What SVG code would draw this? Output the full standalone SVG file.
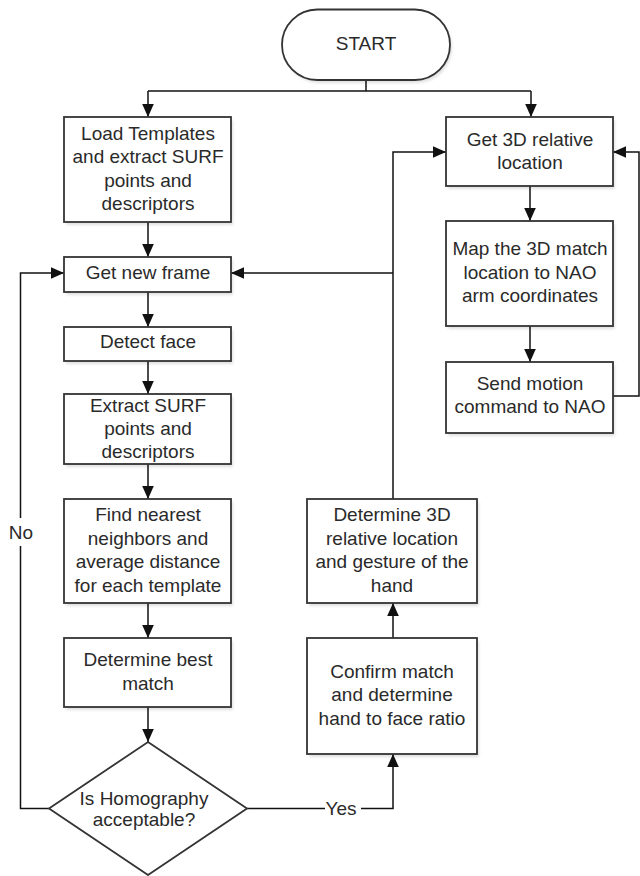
<svg xmlns="http://www.w3.org/2000/svg" width="640" height="876" viewBox="0 0 640 876">
<style>
.b{fill:#fff;stroke:#333;stroke-width:1.8}
.s{fill:#000;opacity:0.12}
.t{font-family:"Liberation Sans",Arial,sans-serif;font-size:19px;fill:#2a2a2a;text-anchor:middle}
.c{fill:none;stroke:#111;stroke-width:1.5}
</style>
<defs>
<marker id="ah" markerUnits="userSpaceOnUse" markerWidth="14" markerHeight="14" viewBox="0 0 14 14" refX="13" refY="7" orient="auto">
<path d="M0,1.2 L13,7 L0,12.8 Z" fill="#111"/>
</marker>
<filter id="sh" x="-10%" y="-10%" width="130%" height="130%"><feGaussianBlur stdDeviation="1.5"/></filter>
</defs>
<rect width="640" height="876" fill="#fff"/>
<g id="connectors">
<path class="c" d="M366,80 V91"/>
<path class="c" d="M148,91 H531"/>
<path class="c" d="M148,91 V117" marker-end="url(#ah)"/>
<path class="c" d="M531,91 V117" marker-end="url(#ah)"/>
<path class="c" d="M148,222 V257" marker-end="url(#ah)"/>
<path class="c" d="M148,292 V327" marker-end="url(#ah)"/>
<path class="c" d="M148,361 V394" marker-end="url(#ah)"/>
<path class="c" d="M148,464 V499" marker-end="url(#ah)"/>
<path class="c" d="M148,603 V638" marker-end="url(#ah)"/>
<path class="c" d="M148,707 V742" marker-end="url(#ah)"/>
<path class="c" d="M49,808.5 H20.5 V273 H64" marker-end="url(#ah)"/>
<path class="c" d="M247,808.5 H393 V754" marker-end="url(#ah)"/>
<path class="c" d="M393,638 V603" marker-end="url(#ah)"/>
<path class="c" d="M393,499 V152 H446" marker-end="url(#ah)"/>
<path class="c" d="M393,273 H231" marker-end="url(#ah)"/>
<path class="c" d="M530,186 V221" marker-end="url(#ah)"/>
<path class="c" d="M530,326 V362" marker-end="url(#ah)"/>
<path class="c" d="M613,396 H639 V152 H613" marker-end="url(#ah)"/>
<rect x="8" y="518" width="26" height="28" fill="#fff"/>
<text class="t" x="21" y="538.5">No</text>
<rect x="325" y="798" width="36" height="20" fill="#fff"/>
<text class="t" x="341" y="815">Yes</text>
</g>
<g id="start">
<rect class="s" x="284" y="12" width="168" height="71" rx="35.5" filter="url(#sh)"/>
<rect class="b" x="282" y="9.5" width="168" height="70.5" rx="35.2"/>
<text class="t" x="366" y="49.5">START</text>
</g>
<g id="load">
<rect class="s" x="66" y="120" width="167" height="105" filter="url(#sh)"/>
<rect class="b" x="64" y="117" width="167" height="105"/>
<text class="t" x="148" y="140">Load Templates</text>
<text class="t" x="148" y="163.3">and extract SURF</text>
<text class="t" x="148" y="186.6">points and</text>
<text class="t" x="148" y="209.9">descriptors</text>
</g>
<g id="newframe">
<rect class="s" x="66" y="260" width="167" height="35" filter="url(#sh)"/>
<rect class="b" x="64" y="257" width="167" height="35"/>
<text class="t" x="148" y="279.3">Get new frame</text>
</g>
<g id="detect">
<rect class="s" x="66" y="330" width="167" height="34" filter="url(#sh)"/>
<rect class="b" x="64" y="327" width="167" height="34"/>
<text class="t" x="148" y="348.3">Detect face</text>
</g>
<g id="extract">
<rect class="s" x="66" y="397" width="167" height="70" filter="url(#sh)"/>
<rect class="b" x="64" y="394" width="167" height="70"/>
<text class="t" x="148" y="411.8">Extract SURF</text>
<text class="t" x="148" y="435.1">points and</text>
<text class="t" x="148" y="458.4">descriptors</text>
</g>
<g id="find">
<rect class="s" x="66" y="502" width="167" height="104" filter="url(#sh)"/>
<rect class="b" x="64" y="499" width="167" height="104"/>
<text class="t" x="148" y="521.2">Find nearest</text>
<text class="t" x="148" y="544.6">neighbors and</text>
<text class="t" x="148" y="568.4">average distance</text>
<text class="t" x="148" y="591.8">for each template</text>
</g>
<g id="best">
<rect class="s" x="66" y="641" width="167" height="69" filter="url(#sh)"/>
<rect class="b" x="64" y="638" width="167" height="69"/>
<text class="t" x="148" y="666.2">Determine best</text>
<text class="t" x="148" y="690.2">match</text>
</g>
<g id="homography">
<polygon class="b" points="148,742 247,808.5 148,875 49,808.5"/>
<text class="t" x="144" y="804.5">Is Homography</text>
<text class="t" x="144" y="826.3">acceptable?</text>
</g>
<g id="confirm">
<rect class="s" x="309" y="641" width="170" height="116" filter="url(#sh)"/>
<rect class="b" x="307" y="638" width="170" height="116"/>
<text class="t" x="392" y="677.6">Confirm match</text>
<text class="t" x="392" y="701.2">and determine</text>
<text class="t" x="392" y="724.6">hand to face ratio</text>
</g>
<g id="det3d">
<rect class="s" x="309" y="502" width="170" height="104" filter="url(#sh)"/>
<rect class="b" x="307" y="499" width="170" height="104"/>
<text class="t" x="392" y="521.2">Determine 3D</text>
<text class="t" x="392" y="544.6">relative location</text>
<text class="t" x="392" y="568.4">and gesture of the</text>
<text class="t" x="392" y="591.8">hand</text>
</g>
<g id="get3d">
<rect class="s" x="448" y="120" width="167" height="69" filter="url(#sh)"/>
<rect class="b" x="446" y="117" width="167" height="69"/>
<text class="t" x="530" y="145.9">Get 3D relative</text>
<text class="t" x="530" y="169.2">location</text>
</g>
<g id="map">
<rect class="s" x="448" y="224" width="167" height="105" filter="url(#sh)"/>
<rect class="b" x="446" y="221" width="167" height="105"/>
<text class="t" x="530" y="255.2">Map the 3D match</text>
<text class="t" x="530" y="278.6">location to NAO</text>
<text class="t" x="530" y="301.9">arm coordinates</text>
</g>
<g id="send">
<rect class="s" x="448" y="365" width="167" height="71" filter="url(#sh)"/>
<rect class="b" x="446" y="362" width="167" height="71"/>
<text class="t" x="530" y="390.2">Send motion</text>
<text class="t" x="530" y="412.6">command to NAO</text>
</g>
</svg>
